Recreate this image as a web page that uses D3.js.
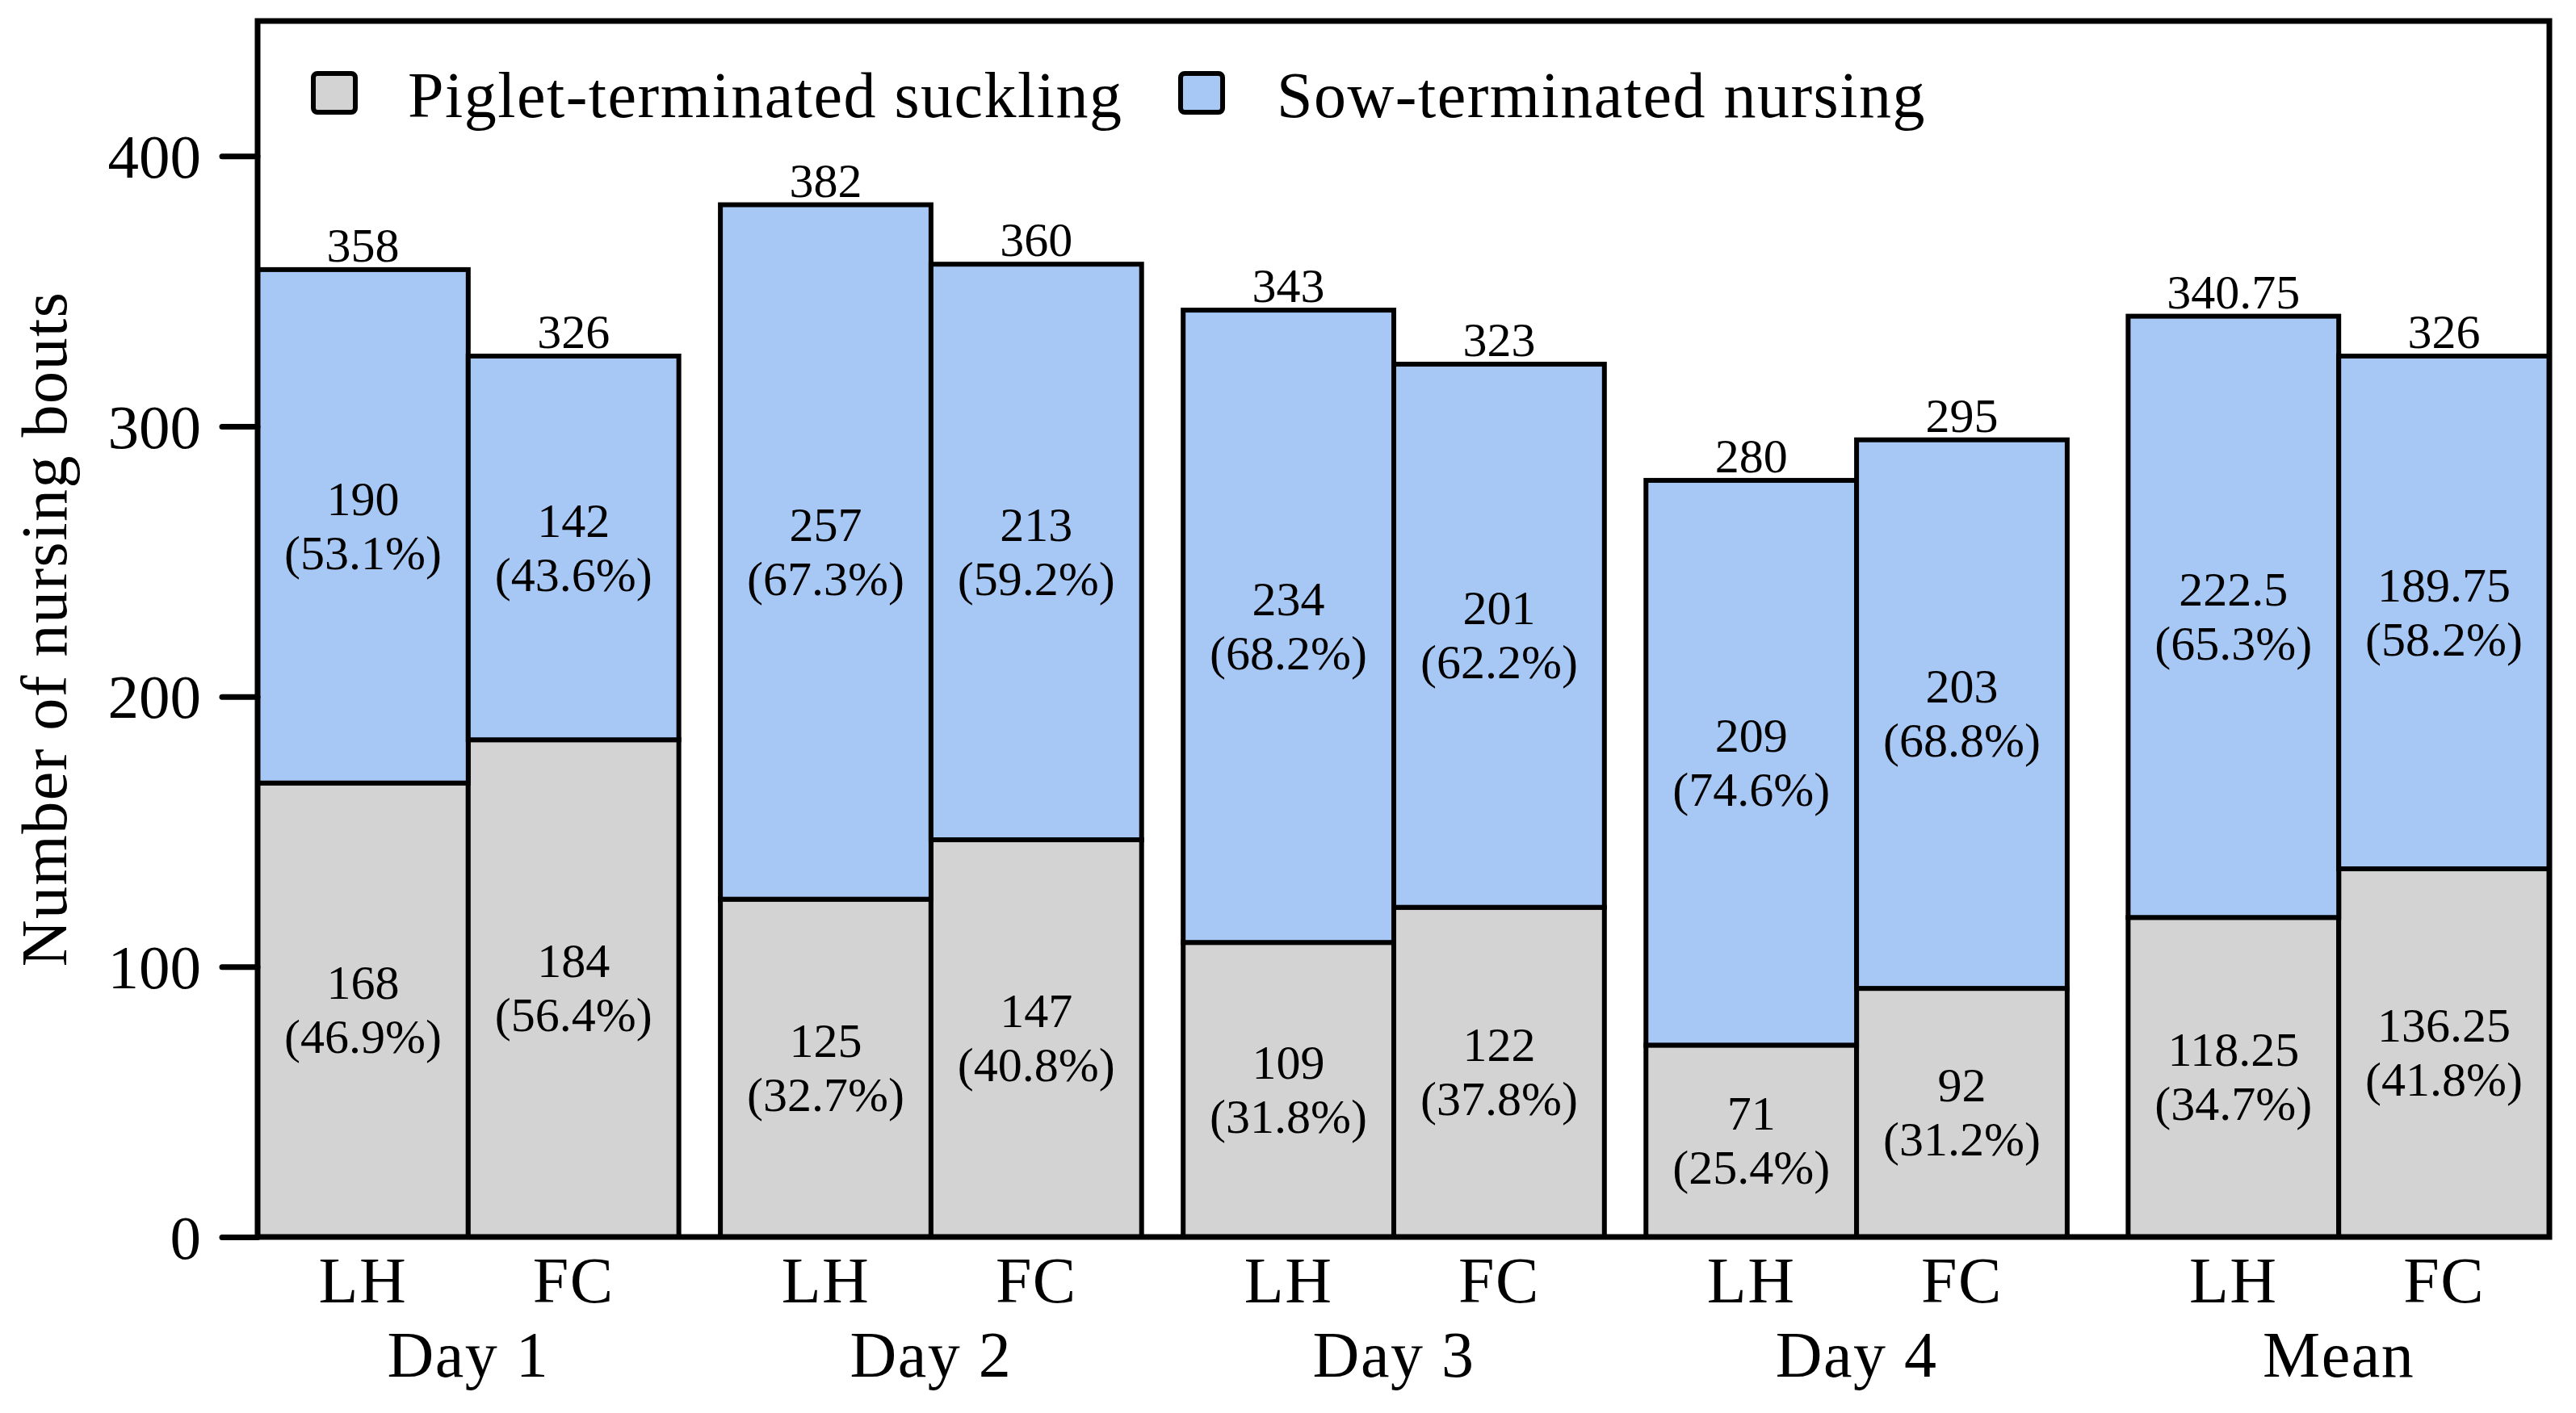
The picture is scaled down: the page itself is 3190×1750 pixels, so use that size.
<!DOCTYPE html>
<html>
<head>
  <meta charset="UTF-8">
  <style>
    body { margin: 0; background: #fff; }
    svg { display: block; }
    text { font-family: "Liberation Serif", "Times New Roman", serif; fill: #000; }
    .big { font-size: 80px; letter-spacing: 1.5px; }
    .val { font-size: 60px; }
  </style>
</head>
<body>
  <svg></svg>
  <script src="https://d3js.org/d3.v7.min.js"></script>
  <script>
    // values
    let groups = ["Day 1", "Day 2", "Day 3", "Day 4", "Mean"];
    let treatments = ["LH", "FC"];
    let piglet = [168, 184, 125, 147, 109, 122, 71, 92, 118.25, 136.25];
    let sow = [190, 142, 257, 213, 234, 201, 209, 203, 222.5, 189.75];
    let pigletPct = [46.9, 56.4, 32.7, 40.8, 31.8, 37.8, 25.4, 31.2, 34.7, 41.8];
    let sowPct = [53.1, 43.6, 67.3, 59.2, 68.2, 62.2, 74.6, 68.8, 65.3, 58.2];
    let yTicks = [0, 100, 200, 300, 400];
    let seriesNames = ["Piglet-terminated suckling", "Sow-terminated nursing"];
    let colors = ["#D3D3D3", "#A7C8F4"];

    let width = 3190, height = 1750;
    let pLeft = 319, pRight = 3157, pTop = 26, pBottom = 1532;
    let meanGap = 24;

    let svg = d3.select("svg")
      .attr("width", width)
      .attr("height", height)
      .attr("viewBox", "0 0 " + width + " " + height);

    let y = d3.scaleLinear().domain([0, 450]).range([pBottom, pTop]);

    let x0 = d3.scaleBand()
      .domain(groups)
      .range([pLeft, pRight - meanGap])
      .paddingInner(0.0898)
      .paddingOuter(0);

    let gx = g => x0(g) + (g === "Mean" ? meanGap : 0);

    let x1 = d3.scaleBand().domain(treatments).range([0, x0.bandwidth()]);

    let bars = [];
    groups.forEach((g, gi) => {
      treatments.forEach((t, ti) => {
        let i = gi * 2 + ti;
        bars.push({
          group: g, treat: t,
          piglet: piglet[i], sow: sow[i],
          total: piglet[i] + sow[i],
          pp: pigletPct[i], sp: sowPct[i]
        });
      });
    });

    let stack = d3.stack().keys(["piglet", "sow"])(bars);

    let barG = svg.append("g");
    stack.forEach((layer, li) => {
      barG.append("g")
        .selectAll("rect")
        .data(layer)
        .enter()
        .append("rect")
        .attr("x", d => gx(d.data.group) + x1(d.data.treat))
        .attr("width", x1.bandwidth())
        .attr("y", d => y(d[1]))
        .attr("height", d => y(d[0]) - y(d[1]))
        .attr("fill", colors[li])
        .attr("stroke", "#000")
        .attr("stroke-width", 6);
    });

    // inner labels
    stack.forEach((layer, li) => {
      let g = svg.append("g");
      layer.forEach(d => {
        let cx = gx(d.data.group) + x1(d.data.treat) + x1.bandwidth() / 2;
        let cy = y((d[0] + d[1]) / 2);
        let v = li === 0 ? d.data.piglet : d.data.sow;
        let p = li === 0 ? d.data.pp : d.data.sp;
        g.append("text").attr("class", "val")
          .attr("x", cx).attr("y", cy - 14)
          .attr("text-anchor", "middle")
          .text(v);
        g.append("text").attr("class", "val")
          .attr("x", cx).attr("y", cy + 53)
          .attr("text-anchor", "middle")
          .text("(" + p.toFixed(1) + "%)");
      });
    });

    // totals on top
    svg.append("g")
      .selectAll("text")
      .data(bars)
      .enter()
      .append("text")
      .attr("class", "val")
      .attr("x", d => gx(d.group) + x1(d.treat) + x1.bandwidth() / 2)
      .attr("y", d => y(d.total) - 10)
      .attr("text-anchor", "middle")
      .text(d => d.total);

    // y axis
    let yAxis = svg.append("g")
      .attr("transform", "translate(" + pLeft + ",0)")
      .call(d3.axisLeft(y).tickValues(yTicks).tickSize(44).tickPadding(26));
    yAxis.select(".domain").remove();
    yAxis.selectAll(".tick line").attr("stroke", "#000").attr("stroke-width", 7).attr("stroke-linecap", "round");
    yAxis.selectAll(".tick text")
      .style("font-family", "'Liberation Serif', serif")
      .style("font-size", "77px")
      .attr("dy", "0.34em")
      .attr("fill", "#000");

    // x labels
    svg.append("g")
      .selectAll("text")
      .data(bars)
      .enter()
      .append("text")
      .attr("class", "big")
      .attr("x", d => gx(d.group) + x1(d.treat) + x1.bandwidth() / 2)
      .attr("y", 1613)
      .attr("text-anchor", "middle")
      .text(d => d.treat);
    svg.append("g")
      .selectAll("text")
      .data(groups)
      .enter()
      .append("text")
      .attr("class", "big")
      .attr("x", g => gx(g) + x0.bandwidth() / 2)
      .attr("y", 1705)
      .attr("text-anchor", "middle")
      .text(g => g);

    // y title
    svg.append("text").attr("class", "big")
      .attr("transform", "translate(82," + ((pTop + pBottom) / 2) + ") rotate(-90)")
      .attr("text-anchor", "middle")
      .text("Number of nursing bouts");

    // frame
    svg.append("rect")
      .attr("x", pLeft).attr("y", pTop)
      .attr("width", pRight - pLeft).attr("height", pBottom - pTop)
      .attr("fill", "none")
      .attr("stroke", "#000")
      .attr("stroke-width", 7);

    // legend
    let legendX = [388, 1462], legendText = [505, 1581];
    seriesNames.forEach((s, i) => {
      svg.append("rect")
        .attr("x", legendX[i]).attr("y", 91)
        .attr("width", 52).attr("height", 48)
        .attr("rx", 5)
        .attr("fill", colors[i])
        .attr("stroke", "#000")
        .attr("stroke-width", 6);
      svg.append("text").attr("class", "big")
        .attr("x", legendText[i]).attr("y", 145)
        .text(s);
    });
  </script>
</body>
</html>
